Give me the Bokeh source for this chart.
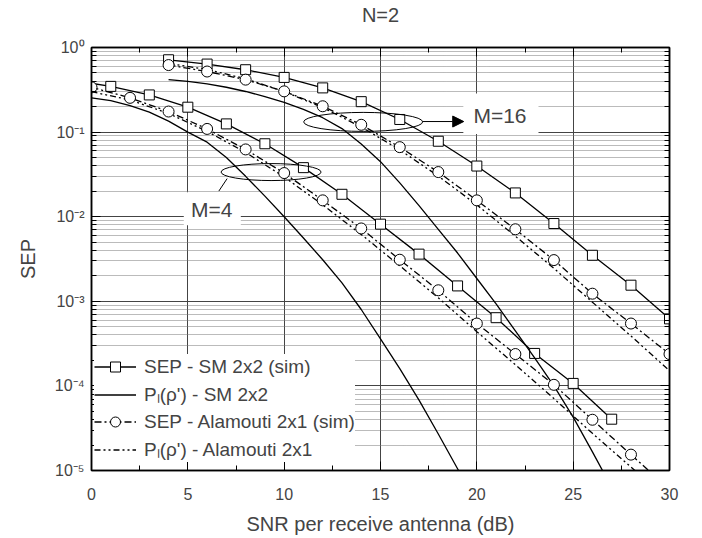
from bokeh.plotting import figure
from bokeh.models import (Range1d, FixedTicker, LinearAxis, LogAxis, CustomJSTickFormatter,
                          Legend, LegendItem, Label, Arrow, NormalHead)
from bokeh.embed import file_html
from bokeh.resources import INLINE

FONT = "Liberation Sans"

# ---------------- data ----------------
snr_sm16_sim = [4, 6, 8, 10, 12, 14, 16, 18, 20, 22, 24, 26, 28, 30]
sep_sm16_sim = [0.716, 0.637, 0.546, 0.443, 0.333, 0.229, 0.141, 0.078, 0.0397, 0.0191,
                0.0083, 0.0035, 0.00155, 0.00062]

snr_sm4_sim = [-1, 1, 3, 5, 7, 9, 11, 13, 15, 17, 19, 21, 23, 25, 27]
sep_sm4_sim = [0.41, 0.347, 0.275, 0.197, 0.125, 0.0728, 0.038, 0.0184, 0.00816, 0.00361,
               0.00152, 0.00064, 0.000242, 0.000107, 0.0000404]

snr_ala16_sim = [4, 6, 8, 10, 12, 14, 16, 18, 20, 22, 24, 26, 28, 30]
sep_ala16_sim = [0.62, 0.52, 0.417, 0.303, 0.202, 0.122, 0.0664, 0.0337, 0.0156, 0.0071,
                 0.00307, 0.00123, 0.000546, 0.000238]

snr_ala4_sim = [0, 2, 4, 6, 8, 10, 12, 14, 16, 18, 20, 22, 24, 26, 28, 30]
sep_ala4_sim = [0.338, 0.254, 0.175, 0.109, 0.0624, 0.0328, 0.0156, 0.00726, 0.0031, 0.00135,
                0.000546, 0.000238, 0.000103, 0.0000398, 0.0000154, 0.000006]

snr_sm4_th = [0, 1, 2, 3, 4, 5, 6, 7, 8, 9, 10, 11, 12, 13, 14, 15, 16, 17, 18, 19, 20]
sep_sm4_th = [0.254, 0.235, 0.205, 0.172, 0.135, 0.100, 0.076, 0.050, 0.030, 0.0175, 0.0100,
              0.0056, 0.0031, 0.00165, 0.00080, 0.00036, 0.00016, 0.000068, 0.000027,
              0.0000105, 0.0000040]

snr_sm16_th = [4, 5, 6, 7, 8, 9, 10, 11, 12, 13, 14, 15, 16, 17, 18, 19, 20, 21, 22, 23, 24,
               25, 26, 27]
sep_sm16_th = [0.417, 0.398, 0.372, 0.339, 0.302, 0.263, 0.224, 0.186, 0.148, 0.110, 0.0724,
               0.0447, 0.0251, 0.0135, 0.00708, 0.00372, 0.00186, 0.000933, 0.000447,
               0.000214, 0.0001, 0.0000427, 0.0000166, 0.0000063]

snr_ala16_th = [4, 6, 8, 10, 12, 14, 16, 18, 20, 22, 24, 26, 28, 30]
sep_ala16_th = [0.646, 0.550, 0.427, 0.302, 0.195, 0.115, 0.0617, 0.0302, 0.0138, 0.00589,
                0.00245, 0.000977, 0.000389, 0.000151]

snr_ala4_th = [0, 2, 4, 6, 8, 10, 12, 14, 16, 18, 20, 22, 24, 26, 28, 30]
sep_ala4_th = [0.30, 0.240, 0.166, 0.102, 0.0575, 0.0295, 0.0138, 0.00617, 0.00263, 0.0011,
               0.000437, 0.000178, 0.0000708, 0.0000275, 0.000011, 0.0000043]

x_ticks = [0, 5, 10, 15, 20, 25, 30]
x_minor = [2.5, 7.5, 12.5, 17.5, 22.5, 27.5]
y_ticks = [1e-5, 1e-4, 1e-3, 1e-2, 1e-1, 1]
y_minor = [m * 10.0 ** e for e in range(-5, 0) for m in range(2, 10)]

title_text = "N=2"
legend_labels = ["SEP - SM 2x2 (sim)", "P\u2097(\u03c1') - SM 2x2",
                 "SEP - Alamouti 2x1 (sim)", "P\u2097(\u03c1') - Alamouti 2x1"]

# ---------------- figure ----------------
p = figure(width=702, height=538, output_backend="svg", toolbar_location=None,
           x_range=Range1d(0, 30), y_range=Range1d(1e-5, 1), y_axis_type="log",
           min_border_left=91, min_border_right=33, min_border_top=46, min_border_bottom=68,
           background_fill_color="white", border_fill_color="white")
p.outline_line_color = "black"
p.outline_line_width = 1.5

p.title.text = title_text
p.title.align = "center"
p.title.text_font = FONT
p.title.text_font_size = "20px"
p.title.text_font_style = "normal"
p.title.standoff = 2

xt = FixedTicker(ticks=x_ticks, minor_ticks=x_minor)
yt = FixedTicker(ticks=y_ticks, minor_ticks=y_minor)
sup_code = """
const e = Math.round(Math.log10(tick));
const m = {"-":"\u207b","0":"\u2070","1":"\u00b9","2":"\u00b2","3":"\u00b3","4":"\u2074","5":"\u2075"};
return "10" + String(e).split("").map(c => m[c]).join("");
"""

def style_axis(ax):
    ax.axis_line_color = "black"
    ax.axis_line_width = 1.5
    ax.major_tick_in = 9
    ax.major_tick_out = 0
    ax.minor_tick_in = 5
    ax.minor_tick_out = 0
    ax.major_tick_line_color = "black"
    ax.minor_tick_line_color = "black"
    ax.major_label_text_font = FONT
    ax.major_label_text_font_size = "16px"
    ax.axis_label_text_font = FONT
    ax.axis_label_text_font_size = "20px"
    ax.axis_label_text_font_style = "normal"

xa = p.xaxis[0]
xa.ticker = xt
xa.axis_label = "SNR per receive antenna (dB)"
style_axis(xa)
xa.major_label_standoff = 17
xa.axis_label_standoff = 10

ya = p.yaxis[0]
ya.ticker = yt
ya.formatter = CustomJSTickFormatter(code=sup_code)
ya.axis_label = "SEP"
style_axis(ya)
ya.major_label_standoff = 7
ya.axis_label_standoff = 13

# mirrored top axis (no labels); a blank axis label leaves room between frame and title
top = LinearAxis(ticker=xt, formatter=CustomJSTickFormatter(code="return ''"))
style_axis(top)
top.major_label_standoff = 0
top.axis_label = " "
top.axis_label_text_font_size = "16px"
top.axis_label_standoff = 1
p.add_layout(top, "above")
right = LogAxis(ticker=yt, formatter=CustomJSTickFormatter(code="return ''"))
style_axis(right)
right.major_label_standoff = 0
p.add_layout(right, "right")

p.xgrid.ticker = xt
p.xgrid.grid_line_color = "#444444"
p.xgrid.grid_line_width = 1
p.ygrid.ticker = yt
p.ygrid.grid_line_color = "#444444"
p.ygrid.grid_line_width = 1
p.ygrid.minor_grid_line_color = "#777777"
p.ygrid.minor_grid_line_dash = "1 1"
p.ygrid.minor_grid_line_width = 1

# white boxes behind annotation texts
p.quad(left=[19.3], right=[23.2], bottom=[0.095], top=[0.285], fill_color="white", line_color=None)
p.quad(left=[4.79], right=[7.75], bottom=[0.0079], top=[0.0195], fill_color="white", line_color=None)

LW = 1.3
DASH_SIM = "7 3 2 3"
DASH_TH = "6 3 2 3 2 3"

# SM sim
l_sm4 = p.line(snr_sm4_sim, sep_sm4_sim, line_color="black", line_width=LW)
s_sm4 = p.scatter(snr_sm4_sim, sep_sm4_sim, marker="square", size=10, fill_color="white",
                  line_color="black", line_width=1)
p.line(snr_sm16_sim, sep_sm16_sim, line_color="black", line_width=LW)
p.scatter(snr_sm16_sim, sep_sm16_sim, marker="square", size=10, fill_color="white",
          line_color="black", line_width=1)
# SM theory
l_sm4t = p.line(snr_sm4_th, sep_sm4_th, line_color="black", line_width=LW)
p.line(snr_sm16_th, sep_sm16_th, line_color="black", line_width=LW)
# Alamouti theory
l_a4t = p.line(snr_ala4_th, sep_ala4_th, line_color="black", line_width=LW, line_dash=DASH_TH)
p.line(snr_ala16_th, sep_ala16_th, line_color="black", line_width=LW, line_dash=DASH_TH)
# Alamouti sim
l_a4 = p.line(snr_ala4_sim, sep_ala4_sim, line_color="black", line_width=LW, line_dash=DASH_SIM)
c_a4 = p.scatter(snr_ala4_sim, sep_ala4_sim, marker="circle", size=11, fill_color="white",
                 line_color="black", line_width=1)
p.line(snr_ala16_sim, sep_ala16_sim, line_color="black", line_width=LW, line_dash=DASH_SIM)
p.scatter(snr_ala16_sim, sep_ala16_sim, marker="circle", size=11, fill_color="white",
          line_color="black", line_width=1)

# annotations: ellipses, arrow, connector, texts
p.ellipse(x=[14.1], y=[0.132], width=119, height=19, width_units="screen", height_units="screen",
          fill_color=None, line_color="black", line_width=1)
p.ellipse(x=[9.32], y=[0.0337], width=100, height=17, width_units="screen", height_units="screen",
          fill_color=None, line_color="black", line_width=1)
p.segment(x0=[7.04], y0=[0.0282], x1=[6.61], y1=[0.0201], line_color="black", line_width=1)
p.add_layout(Arrow(end=NormalHead(size=11, fill_color="black", line_color="black"),
                   x_start=17.19, y_start=0.1333, x_end=19.32, y_end=0.1333,
                   line_color="black", line_width=1))
p.add_layout(Label(x=21.2, y=0.157, text="M=16", text_align="center", text_baseline="middle",
                   text_font=FONT, text_font_size="21px"))
p.add_layout(Label(x=6.24, y=0.01225, text="M=4", text_align="center", text_baseline="middle",
                   text_font=FONT, text_font_size="21px"))

legend = Legend(items=[
    LegendItem(label=legend_labels[0], renderers=[l_sm4, s_sm4]),
    LegendItem(label=legend_labels[1], renderers=[l_sm4t]),
    LegendItem(label=legend_labels[2], renderers=[l_a4, c_a4]),
    LegendItem(label=legend_labels[3], renderers=[l_a4t]),
], location=(3, 8))
legend.background_fill_color = "white"
legend.background_fill_alpha = 1
legend.border_line_color = None
legend.label_text_font = FONT
legend.label_text_font_size = "19px"
legend.glyph_width = 42
legend.glyph_height = 25
legend.label_height = 25
legend.label_standoff = 8
legend.spacing = 2
legend.padding = 6
legend.margin = 0
p.add_layout(legend, "center")

open("out.html", "w").write(file_html(p, INLINE))
